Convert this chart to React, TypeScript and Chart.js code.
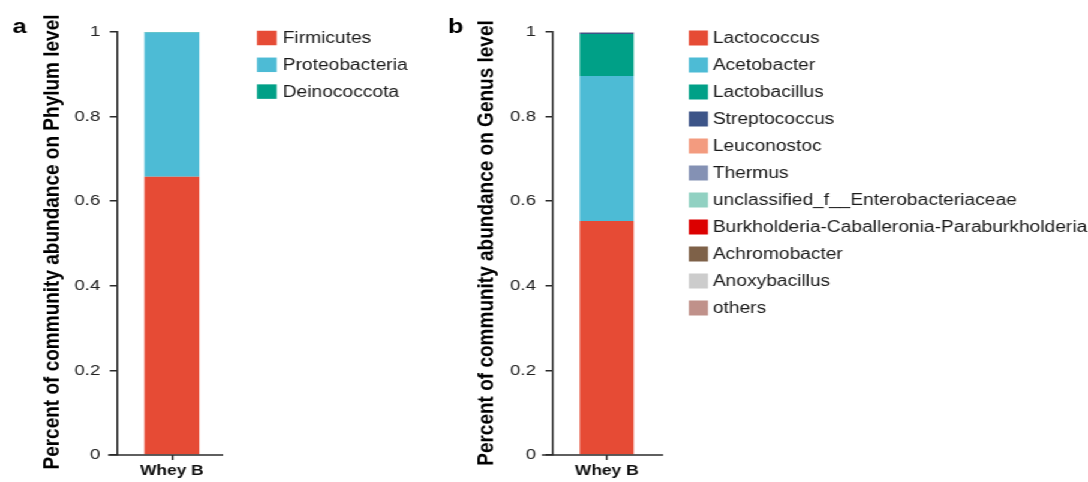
import React, { useEffect, useRef } from "react";
import { Chart, registerables } from "chart.js";

Chart.register(...registerables);

// ---- data ----
const categories = ["Whey B"];
const yTickLabels = ["0", "0.2", "0.4", "0.6", "0.8", "1"];

const phylumLabels = ["Firmicutes", "Proteobacteria", "Deinococcota"];
const phylumValues = [0.658, 0.341, 0.001];
const phylumColors = ["#E64B35", "#4DBBD5", "#00A087"];

const genusLabels = [
  "Lactococcus",
  "Acetobacter",
  "Lactobacillus",
  "Streptococcus",
  "Leuconostoc",
  "Thermus",
  "unclassified_f__Enterobacteriaceae",
  "Burkholderia-Caballeronia-Paraburkholderia",
  "Achromobacter",
  "Anoxybacillus",
  "others",
];
const genusValues = [0.553, 0.343, 0.099, 0.003, 0.0002, 0.0004, 0.0002, 0.0002, 0.0001, 0.0001, 0.0008];
const genusColors = [
  "#E64B35",
  "#4DBBD5",
  "#00A087",
  "#3C5488",
  "#F39B7F",
  "#8491B4",
  "#91D1C2",
  "#DC0000",
  "#7E6148",
  "#CCCCCC",
  "#C0918A",
];

const FONT = "'Liberation Sans', Arial, Helvetica, sans-serif";
const AXIS_COLOR = "#2a2a2a";
const DESIGN_W = 907;
const H = 482;
const STRETCH = 1088 / DESIGN_W;

const decorPlugin = {
  id: "panelDecor",
  afterDraw(chart: any, _args: any, opts: any) {
    const ctx = chart.ctx as CanvasRenderingContext2D;
    const { left, right, bottom } = chart.chartArea;
    ctx.save();
    // x axis line (offset style, extends left of y axis)
    ctx.strokeStyle = AXIS_COLOR;
    ctx.lineWidth = 1.5;
    ctx.beginPath();
    ctx.moveTo(left - opts.xLineLeft, bottom);
    ctx.lineTo(right + opts.xLineRight, bottom);
    ctx.stroke();
    // panel letter
    ctx.fillStyle = "#000";
    ctx.font = `bold 21px ${FONT}`;
    ctx.textAlign = "left";
    ctx.textBaseline = "alphabetic";
    ctx.fillText(opts.letter, opts.letterX, 33);
    // y axis title
    ctx.save();
    ctx.translate(opts.titleX, opts.titleY);
    ctx.rotate(-Math.PI / 2);
    ctx.font = `bold 19px ${FONT}`;
    ctx.textAlign = "center";
    ctx.textBaseline = "middle";
    ctx.fillStyle = "#000";
    ctx.fillText(opts.title, 0, 0);
    ctx.restore();
    // legend
    chart.data.datasets.forEach((ds: any, i: number) => {
      const cy = opts.legendY + opts.legendStep * i;
      ctx.fillStyle = ds.backgroundColor;
      ctx.fillRect(opts.boxX, cy - opts.boxH / 2, opts.boxW, opts.boxH);
      ctx.fillStyle = "#1a1a1a";
      ctx.font = `16px ${FONT}`;
      ctx.textAlign = "left";
      ctx.textBaseline = "middle";
      ctx.fillText(ds.label, opts.textX, cy + 1);
    });
    ctx.restore();
  },
};

function makeConfig(labels: string[], values: number[], colors: string[], padding: any, decor: any) {
  return {
    type: "bar" as const,
    data: {
      labels: categories,
      datasets: labels.map((l, i) => ({
        label: l,
        data: [values[i]],
        backgroundColor: colors[i],
        borderWidth: 0,
        barPercentage: 0.5,
        categoryPercentage: 1,
      })),
    },
    plugins: [decorPlugin],
    options: {
      animation: false,
      responsive: false,
      devicePixelRatio: 1,
      layout: { padding },
      plugins: {
        legend: { display: false },
        tooltip: { enabled: false },
        panelDecor: decor,
      },
      scales: {
        x: {
          stacked: true,
          offset: true,
          border: { display: false },
          grid: {
            display: true,
            offset: false,
            drawOnChartArea: false,
            drawTicks: true,
            tickLength: 5,
            color: AXIS_COLOR,
            lineWidth: 1.5,
          },
          ticks: {
            color: "#111",
            padding: 2,
            font: { family: FONT, size: 14.5, weight: "bold" },
            maxRotation: 0,
          },
          afterFit: (s: any) => {
            s.height = 25;
          },
        },
        y: {
          stacked: true,
          min: 0,
          max: 1,
          border: { display: true, color: AXIS_COLOR, width: 1.5 },
          grid: {
            display: true,
            drawOnChartArea: false,
            drawTicks: true,
            tickLength: 6,
            color: AXIS_COLOR,
            lineWidth: 1.5,
          },
          ticks: {
            stepSize: 0.2,
            padding: 8,
            color: "#222",
            font: { family: FONT, size: 15.5 },
            callback: (_v: any, i: number) => yTickLabels[i],
          },
          afterFit: (s: any) => {
            s.width = 60;
          },
        },
      },
    },
  };
}

export default function App() {
  const refA = useRef<HTMLCanvasElement>(null);
  const refB = useRef<HTMLCanvasElement>(null);

  useEffect(() => {
    const a = new Chart(
      refA.current!,
      makeConfig(
        phylumLabels,
        phylumValues,
        phylumColors,
        { left: 37.5, right: 370 - 189, top: 32, bottom: 2 },
        {
          letter: "a",
          letterX: 10.5,
          title: "Percent of community abundance on Phylum level",
          titleX: 44,
          titleY: 242,
          xLineLeft: 7.5,
          xLineRight: -3,
          legendY: 38,
          legendStep: 26.8,
          boxX: 214.2,
          boxW: 16.5,
          boxH: 14.5,
          textX: 235.8,
        }
      ) as any
    );
    const b = new Chart(
      refB.current!,
      makeConfig(
        genusLabels,
        genusValues,
        genusColors,
        { left: 30.8, right: 537 - 180.8, top: 32, bottom: 2 },
        {
          letter: "b",
          letterX: 3.5,
          title: "Percent of community abundance on Genus level",
          titleX: 36,
          titleY: 243,
          xLineLeft: 9,
          xLineRight: 2,
          legendY: 38,
          legendStep: 27,
          boxX: 204.2,
          boxW: 16,
          boxH: 15,
          textX: 224.2,
        }
      ) as any
    );
    return () => {
      a.destroy();
      b.destroy();
    };
  }, []);

  return (
    <div
      style={{
        position: "absolute",
        left: 0,
        top: 0,
        width: DESIGN_W,
        height: H,
        transform: `scaleX(${STRETCH})`,
        transformOrigin: "0 0",
        background: "#fff",
      }}
    >
      <canvas ref={refA} width={370} height={H} style={{ position: "absolute", left: 0, top: 0 }} />
      <canvas ref={refB} width={537} height={H} style={{ position: "absolute", left: 370, top: 0 }} />
    </div>
  );
}
